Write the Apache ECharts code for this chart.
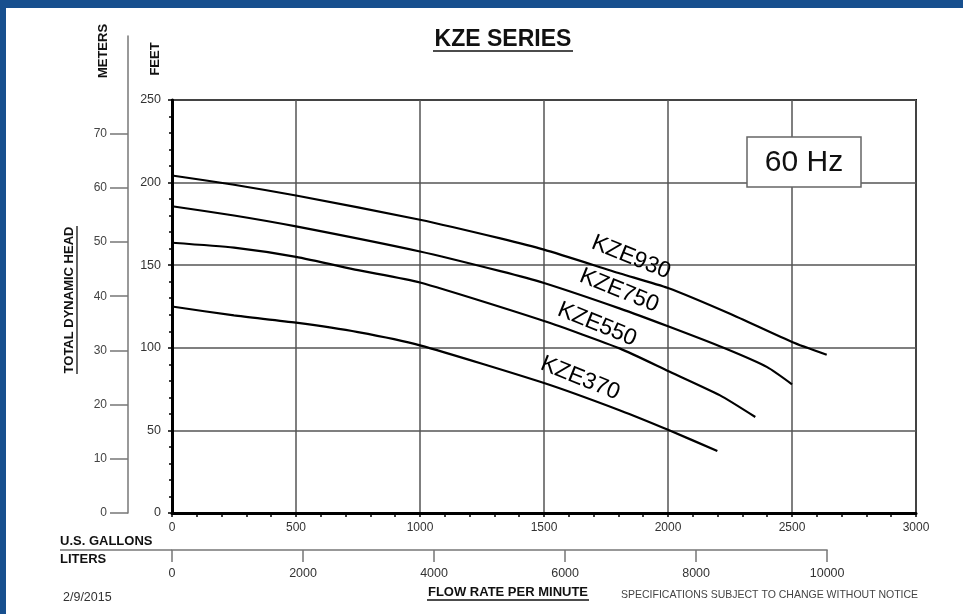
<!DOCTYPE html>
<html>
<head>
<meta charset="utf-8">
<script src="https://cdn.jsdelivr.net/npm/echarts@6/dist/echarts.min.js"></script>
<style>
html,body{margin:0;padding:0;background:#fff;}
#c{width:963px;height:614px;}
</style>
</head>
<body>
<div id="c"></div>
<script>
// ---- data (U.S. gallons per minute vs. total dynamic head in feet) ----
const seriesNames = ['KZE930', 'KZE750', 'KZE550', 'KZE370'];
const flowKZE930 = [0, 250, 500, 1000, 1324, 1500, 1807, 2000, 2250, 2500, 2640];
const headKZE930 = [204.3, 198.7, 192.2, 177.5, 166.2, 159.4, 145.0, 136.2, 120.6, 103.5, 95.8];
const flowKZE750 = [0, 250, 500, 1000, 1324, 1500, 1807, 2000, 2224, 2400, 2500];
const headKZE750 = [185.7, 180.1, 173.5, 158.3, 146.4, 139.2, 123.7, 113.0, 100.0, 88.3, 77.9];
const flowKZE550 = [0, 250, 500, 750, 1000, 1500, 1807, 2000, 2210, 2352];
const headKZE550 = [163.6, 160.6, 155.0, 147.0, 139.5, 116.2, 99.5, 86.0, 71.2, 58.1];
const flowKZE370 = [0, 250, 500, 750, 1000, 1500, 1807, 2000, 2199];
const headKZE370 = [125.0, 119.6, 115.2, 109.5, 101.5, 78.7, 62.1, 50.4, 37.5];
const meterTicks = [0, 10, 20, 30, 40, 50, 60, 70];
const literMax = 10000;
const gallonMax = 3000;
const feetMax = 250;

const FT_PER_M = 3.28084;
const L_PER_GAL = 3.78541;

// ---- layout ----
const W = 963, H = 614;
const plotL = 172, plotR = 916, plotT = 100, plotB = 513;
const meterTop = 36;
const meterMax = (feetMax / FT_PER_M) * (plotB - meterTop) / (plotB - plotT);
const literWidth = (literMax / L_PER_GAL) / gallonMax * (plotR - plotL);
const font = 'Liberation Sans, Arial, Helvetica, sans-serif';
const plain = v => String(v);

function pairs(xs, ys) { return xs.map((x, i) => [x, ys[i]]); }
const flows = [flowKZE930, flowKZE750, flowKZE550, flowKZE370];
const heads = [headKZE930, headKZE750, headKZE550, headKZE370];
const labelAnchors = [[1851, 154.7], [1803, 134.6], [1714, 114.1], [1646, 81.5]];

const chart = echarts.init(document.getElementById('c'), null, {renderer: 'canvas'});

const series = seriesNames.map((name, i) => ({
  name: name,
  type: 'line',
  xAxisIndex: 0, yAxisIndex: 0,
  data: pairs(flows[i], heads[i]),
  showSymbol: false,
  symbol: 'none',
  smooth: 0.2,
  lineStyle: {color: '#000', width: 2.2},
  silent: true,
  z: 5,
  markPoint: {
    symbol: 'circle', symbolSize: 0,
    silent: true,
    data: [{
      coord: labelAnchors[i],
      label: {
        show: true, formatter: name, position: 'inside',
        rotate: -22, fontSize: 23, color: '#000', fontFamily: font
      }
    }]
  }
}));

const option = {
  backgroundColor: '#fff',
  animation: false,
  grid: [
    {left: plotL, top: plotT, right: W - plotR, bottom: H - plotB, show: true,
     borderColor: '#111', borderWidth: 2, backgroundColor: 'transparent', containLabel: false},
    {left: 128, top: meterTop, width: 1, bottom: H - plotB, show: false, containLabel: false},
    {left: plotL, top: 549, height: 1, width: literWidth, show: false, containLabel: false}
  ],
  xAxis: [
    {gridIndex: 0, type: 'value', min: 0, max: gallonMax, interval: 500,
     axisLine: {show: true, onZero: false, lineStyle: {color: '#000', width: 3}},
     axisTick: {show: true, length: 4, lineStyle: {color: '#000', width: 1.5}},
     minorTick: {show: true, splitNumber: 5, length: 4, lineStyle: {color: '#000', width: 1.5}},
     splitLine: {show: true, lineStyle: {color: '#555', width: 1.5}},
     axisLabel: {margin: 9, fontSize: 12, color: '#333', fontFamily: font, formatter: plain}},
    {gridIndex: 1, type: 'value', show: false, min: 0, max: 1},
    {gridIndex: 2, type: 'value', min: 0, max: literMax, interval: 2000, position: 'bottom',
     axisLine: {show: true, onZero: false, lineStyle: {color: '#777', width: 1.5}},
     axisTick: {show: true, length: 12, lineStyle: {color: '#777', width: 1.5}},
     splitLine: {show: false},
     axisLabel: {margin: 17, fontSize: 12.5, color: '#333', fontFamily: font, formatter: plain}}
  ],
  yAxis: [
    {gridIndex: 0, type: 'value', min: 0, max: feetMax, interval: 50,
     axisLine: {show: true, onZero: false, lineStyle: {color: '#000', width: 3}},
     axisTick: {show: true, length: 4, lineStyle: {color: '#000', width: 1.5}},
     minorTick: {show: true, splitNumber: 5, length: 3, lineStyle: {color: '#000', width: 1.5}},
     splitLine: {show: true, lineStyle: {color: '#555', width: 1.5}},
     axisLabel: {margin: 11, fontSize: 12.5, color: '#333', fontFamily: font, formatter: plain}},
    {gridIndex: 1, type: 'value', min: 0, max: meterMax, interval: 10, position: 'left',
     axisLine: {show: true, onZero: false, lineStyle: {color: '#777', width: 1.5}},
     axisTick: {show: true, length: 18, customValues: meterTicks, lineStyle: {color: '#777', width: 1.5}},
     splitLine: {show: false},
     axisLabel: {margin: 21, fontSize: 12, color: '#444', fontFamily: font, customValues: meterTicks,
                 formatter: v => (v <= 70 ? String(v) : '')}},
    {gridIndex: 2, type: 'value', show: false, min: 0, max: 1}
  ],
  series: series,
  graphic: [
    // blue frame
    {type: 'rect', shape: {x: 0, y: 0, width: W, height: 8}, style: {fill: '#174f8e'}, silent: true, z: 100},
    {type: 'rect', shape: {x: 0, y: 0, width: 6, height: H}, style: {fill: '#174f8e'}, silent: true, z: 100},
    // title
    {type: 'text', x: 503, y: 40, style: {text: 'KZE SERIES', font: 'bold 23px ' + font, fill: '#111', align: 'center', verticalAlign: 'middle'}, z: 50},
    {type: 'line', shape: {x1: 433, y1: 51, x2: 573, y2: 51}, style: {stroke: '#111', lineWidth: 1.5}, z: 50},
    // axis titles
    {type: 'text', x: 103, y: 51, rotation: Math.PI / 2,
     style: {text: 'METERS', font: 'bold 13px ' + font, fill: '#111', align: 'center', verticalAlign: 'middle'}},
    {type: 'text', x: 155, y: 59, rotation: Math.PI / 2,
     style: {text: 'FEET', font: 'bold 13px ' + font, fill: '#111', align: 'center', verticalAlign: 'middle'}},
    {type: 'text', x: 69, y: 300, rotation: Math.PI / 2,
     style: {text: 'TOTAL DYNAMIC HEAD', font: 'bold 13px ' + font, fill: '#111', align: 'center', verticalAlign: 'middle'}},
    {type: 'line', shape: {x1: 77, y1: 226, x2: 77, y2: 374}, style: {stroke: '#111', lineWidth: 1.3}},
    {type: 'text', x: 60, y: 541,
     style: {text: 'U.S. GALLONS', font: 'bold 13px ' + font, fill: '#111', align: 'left', verticalAlign: 'middle'}},
    {type: 'text', x: 60, y: 559,
     style: {text: 'LITERS', font: 'bold 13px ' + font, fill: '#111', align: 'left', verticalAlign: 'middle'}},
    {type: 'line', shape: {x1: 60, y1: 550, x2: plotL, y2: 550}, style: {stroke: '#777', lineWidth: 1.5}},
    {type: 'text', x: 63, y: 598,
     style: {text: '2/9/2015', font: '12.5px ' + font, fill: '#333', align: 'left', verticalAlign: 'middle'}},
    {type: 'text', x: 508, y: 592,
     style: {text: 'FLOW RATE PER MINUTE', font: 'bold 13px ' + font, fill: '#111', align: 'center', verticalAlign: 'middle'}},
    {type: 'line', shape: {x1: 427, y1: 600, x2: 589, y2: 600}, style: {stroke: '#111', lineWidth: 1.3}},
    {type: 'text', x: 621, y: 595,
     style: {text: 'SPECIFICATIONS SUBJECT TO CHANGE WITHOUT NOTICE', font: '10.5px ' + font, fill: '#444', align: 'left', verticalAlign: 'middle'}},
    // 60 Hz box
    {type: 'rect', shape: {x: 747, y: 137, width: 114, height: 50},
     style: {fill: '#fff', stroke: '#666', lineWidth: 1.5}, z: 20},
    {type: 'text', x: 804, y: 163, z: 21,
     style: {text: '60 Hz', font: '30px ' + font, fill: '#111', align: 'center', verticalAlign: 'middle'}}
  ]
};

chart.setOption(option);
</script>
</body>
</html>
